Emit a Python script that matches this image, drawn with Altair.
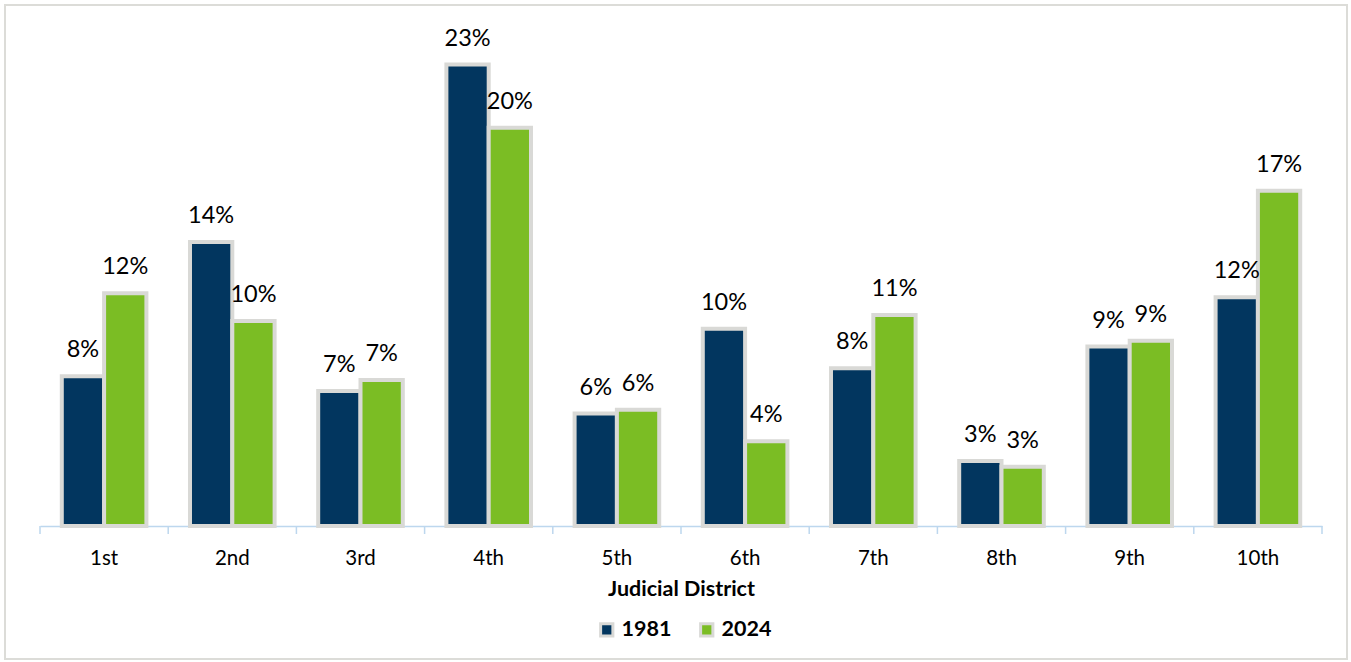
import altair as alt
import pandas as pd

districts = ["1st", "2nd", "3rd", "4th", "5th", "6th", "7th", "8th", "9th", "10th"]
years = ["1981", "2024"]
share_1981 = [7.6, 14.4, 6.85, 23.4, 5.7, 10.0, 8.0, 3.3, 9.1, 11.6]
share_2024 = [11.8, 10.4, 7.4, 20.2, 5.9, 4.3, 10.7, 3.0, 9.4, 17.0]
colors = ["#02365f", "#7bbd24"]

rows = []
for d, a, b in zip(districts, share_1981, share_2024):
    rows.append({"district": d, "year": years[0], "value": a})
    rows.append({"district": d, "year": years[1], "value": b})
df = pd.DataFrame(rows)

# category boundaries (0 = left edge of first band, 10 = right edge of last)
boundaries = pd.DataFrame({"b": list(range(len(districts) + 1))})

FONT = "Lato"
W, H = 1282, 493
AXIS_COLOR = "#bdd7ee"

x = alt.X("district:N", sort=districts, title="Judicial District",
          scale=alt.Scale(paddingInner=0.34, paddingOuter=0.17),
          axis=alt.Axis(labelAngle=0, ticks=False, domainColor=AXIS_COLOR,
                        domainWidth=1.5,
                        labelFontSize=20.5, labelColor="#000000", labelPadding=22,
                        titleFontSize=21.5, titleFontWeight="bold", titleColor="#000000",
                        titlePadding=10, labelFont=FONT, titleFont=FONT))
y = alt.Y("value:Q", scale=alt.Scale(domain=[0, 25]), axis=None)
xo = alt.XOffset("year:N", sort=years)

base = alt.Chart(df)

bars = base.mark_bar(stroke="#d9d9d6", strokeWidth=4).encode(
    x=x, y=y, xOffset=xo,
    color=alt.Color("year:N", sort=years, scale=alt.Scale(domain=years, range=colors),
                    legend=alt.Legend(title=None, orient="none", legendX=556, legendY=586,
                                      direction="horizontal", symbolType="square",
                                      symbolSize=150, symbolStrokeColor="#d9d9d6",
                                      symbolStrokeWidth=3, labelFontSize=21.5,
                                      labelFontWeight="bold", labelFont=FONT,
                                      labelColor="#000000", columnPadding=22,
                                      symbolOpacity=1)),
)

labels = base.transform_calculate(
    label="format(datum.value, '.0f') + '%'"
).mark_text(fontSize=23.5, font=FONT, color="#000000", dy=-19, baseline="alphabetic").encode(
    x=x, y=y, xOffset=xo, text="label:N"
)

ticks = alt.Chart(boundaries).mark_rule(color=AXIS_COLOR, strokeWidth=1.5).encode(
    x=alt.X("b:Q", scale=alt.Scale(domain=[0, len(districts)]), axis=None),
    y=alt.value(H), y2=alt.value(H + 8),
)

border = alt.Chart(pd.DataFrame({"k": [0]})).mark_rect(
    fill=None, stroke="#dcdcd8", strokeWidth=2
).encode(x=alt.value(-35), x2=alt.value(1307), y=alt.value(-28), y2=alt.value(626))

main = alt.layer(bars, labels)

chart = alt.layer(border, main, ticks).resolve_scale(x="independent").properties(
    width=W, height=H,
    autosize=alt.AutoSizeParams(type="none"),
    padding={"left": 40, "top": 33, "right": 29, "bottom": 136},
    background="#ffffff",
).configure_view(stroke=None)

chart.save("out.html", embed_options={"renderer": "svg", "actions": False})
